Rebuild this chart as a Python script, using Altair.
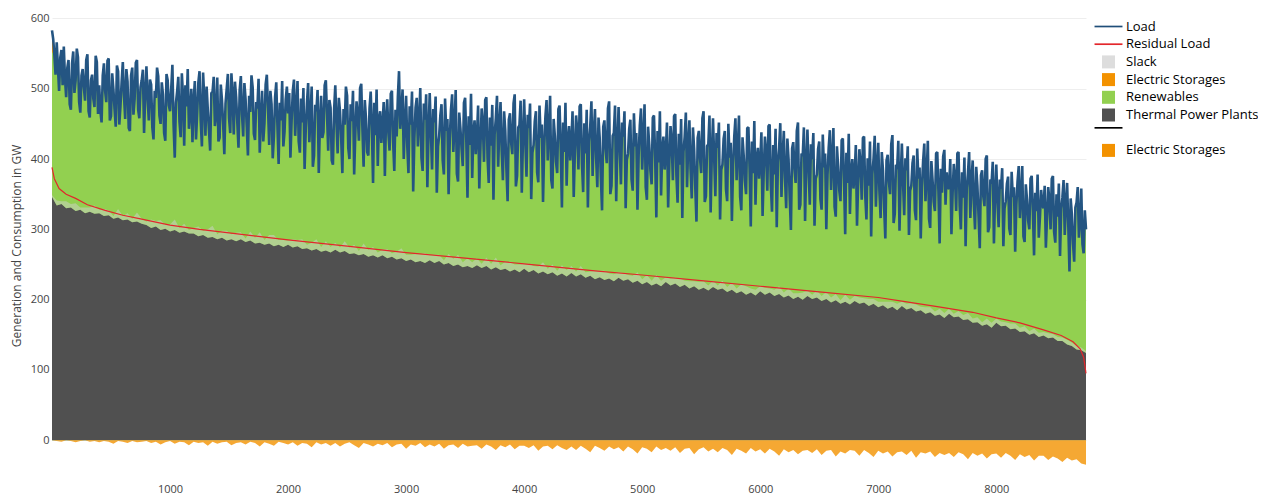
import altair as alt
import pandas as pd

# ---- load (every 10 h of the sorted year) ----
load_hours = list(range(0, 8761, 10))
load = [
    583, 571, 548, 520, 566, 532, 497, 544, 555, 505, 560, 515, 488, 530, 541, 478, 470, 536, 553, 494,
    512, 557, 545, 481, 466, 519, 528, 502, 483, 541, 549, 468, 459, 512, 520, 486, 474, 547, 538, 464,
    505, 468, 452, 519, 536, 497, 481, 540, 543, 455, 461, 522, 500, 471, 446, 533, 525, 449, 475, 510,
    538, 490, 457, 528, 510, 444, 440, 519, 530, 463, 486, 537, 541, 470, 458, 502, 512, 527, 437, 492,
    532, 488, 455, 513, 506, 445, 428, 497, 487, 530, 518, 462, 450, 509, 492, 437, 426, 521, 512, 476,
    468, 500, 534, 449, 402, 480, 496, 517, 453, 431, 522, 490, 419, 505, 475, 528, 443, 466, 500, 424,
    482, 511, 428, 466, 509, 525, 455, 418, 523, 487, 433, 503, 470, 441, 412, 494, 495, 517, 447, 462,
    516, 425, 430, 506, 484, 450, 407, 479, 500, 521, 458, 437, 522, 492, 435, 510, 488, 452, 416, 498,
    518, 463, 432, 508, 485, 446, 405, 490, 467, 519, 502, 436, 427, 481, 472, 514, 409, 458, 497, 425,
    451, 506, 520, 473, 420, 497, 478, 401, 432, 488, 509, 447, 393, 480, 455, 511, 418, 439, 485, 503,
    465, 494, 402, 455, 497, 513, 433, 470, 511, 425, 409, 486, 452, 501, 386, 444, 480, 508, 424, 461,
    503, 389, 405, 477, 468, 498, 380, 452, 490, 430, 438, 505, 512, 463, 412, 484, 473, 398, 392, 470,
    505, 452, 408, 487, 468, 430, 380, 471, 449, 503, 490, 416, 400, 478, 454, 497, 378, 439, 482, 462,
    426, 501, 507, 443, 389, 484, 458, 410, 405, 472, 496, 445, 366, 480, 434, 499, 390, 457, 468, 423,
    448, 481, 376, 459, 485, 437, 412, 493, 497, 424, 383, 470, 432, 488, 525, 443, 468, 499, 400, 452,
    490, 418, 380, 475, 449, 496, 354, 430, 473, 487, 418, 455, 501, 402, 383, 479, 456, 492, 360, 439,
    494, 437, 385, 471, 452, 489, 352, 418, 433, 462, 478, 398, 378, 486, 440, 457, 350, 429, 470, 492,
    410, 447, 498, 379, 368, 466, 444, 415, 390, 480, 487, 426, 345, 461, 420, 493, 373, 438, 455, 407,
    433, 476, 358, 420, 472, 451, 396, 484, 488, 402, 366, 459, 419, 477, 342, 435, 458, 490, 389, 447,
    481, 412, 370, 468, 441, 385, 340, 456, 465, 423, 407, 479, 492, 361, 376, 445, 448, 483, 352, 429,
    485, 426, 375, 463, 444, 479, 343, 409, 420, 454, 468, 381, 367, 476, 430, 449, 339, 418, 460, 484,
    398, 441, 490, 370, 358, 457, 433, 396, 380, 471, 476, 415, 331, 452, 410, 480, 362, 427, 447, 398,
    424, 468, 346, 412, 462, 440, 385, 475, 478, 393, 353, 451, 408, 470, 331, 425, 447, 482, 376, 436,
    471, 401, 360, 459, 430, 374, 327, 446, 455, 414, 394, 472, 482, 350, 362, 433, 437, 476, 340, 421,
    474, 415, 364, 452, 432, 468, 330, 399, 408, 443, 456, 371, 355, 465, 418, 437, 328, 406, 448, 472,
    385, 429, 478, 360, 342, 446, 420, 383, 364, 459, 462, 402, 317, 440, 395, 468, 348, 413, 432, 385,
    409, 452, 331, 398, 447, 425, 370, 461, 464, 377, 338, 436, 392, 457, 316, 410, 432, 466, 360, 421,
    455, 386, 344, 445, 414, 359, 311, 430, 440, 401, 380, 458, 468, 339, 347, 419, 420, 462, 324, 408,
    458, 401, 347, 437, 416, 452, 314, 385, 392, 429, 440, 357, 340, 450, 402, 423, 312, 391, 432, 458,
    370, 414, 462, 346, 327, 431, 405, 369, 350, 444, 445, 387, 304, 425, 380, 454, 335, 400, 416, 372,
    395, 438, 319, 384, 432, 410, 355, 447, 449, 362, 325, 420, 378, 443, 303, 396, 416, 451, 346, 405,
    440, 373, 330, 429, 400, 345, 299, 415, 424, 386, 366, 440, 452, 328, 335, 408, 404, 445, 312, 392,
    442, 386, 335, 421, 400, 437, 305, 372, 378, 414, 425, 343, 328, 435, 388, 408, 300, 377, 416, 441,
    356, 399, 444, 332, 318, 418, 390, 355, 340, 427, 429, 371, 293, 409, 366, 436, 322, 383, 400, 358,
    378, 420, 305, 369, 414, 393, 342, 430, 432, 347, 314, 401, 362, 425, 290, 379, 400, 433, 332, 389,
    423, 354, 316, 410, 384, 331, 287, 398, 406, 368, 350, 421, 434, 309, 322, 392, 386, 426, 298, 373,
    422, 366, 320, 401, 384, 418, 292, 355, 362, 394, 405, 327, 313, 415, 372, 388, 287, 360, 397, 422,
    340, 379, 426, 315, 302, 397, 370, 339, 326, 408, 410, 353, 280, 386, 352, 404, 413, 335, 381, 359,
    358, 400, 293, 352, 393, 374, 326, 408, 410, 333, 300, 381, 345, 402, 276, 359, 380, 410, 316, 370,
    398, 337, 300, 389, 362, 318, 273, 377, 384, 347, 333, 400, 405, 296, 303, 371, 365, 396, 280, 351,
    392, 340, 303, 371, 358, 387, 276, 330, 340, 365, 375, 301, 292, 382, 346, 360, 268, 335, 368, 390,
    316, 349, 390, 290, 282, 364, 343, 312, 300, 372, 376, 327, 263, 352, 326, 378, 288, 318, 356, 334,
    330, 362, 274, 318, 360, 341, 300, 372, 376, 296, 281, 350, 318, 365, 262, 329, 345, 370, 292, 338,
    366, 306, 240, 344, 322, 280, 254, 331, 338, 360, 288, 312, 358, 279, 266, 327, 300,
]

# ---- generation blocks (every 40 h) ----
hours = list(range(0, 8761, 40))
thermal = [
    346, 334, 336, 330, 331, 326, 328, 323, 325, 322,
    323, 319, 320, 315, 317, 313, 314, 310, 311, 308,
    306, 302, 304, 299, 301, 297, 299, 295, 297, 294,
    294, 290, 292, 288, 289, 286, 288, 284, 286, 283,
    286, 282, 284, 280, 281, 278, 280, 276, 278, 275,
    278, 274, 276, 272, 273, 270, 272, 268, 270, 267,
    271, 267, 269, 265, 266, 263, 265, 261, 263, 260,
    263, 259, 261, 257, 259, 255, 257, 253, 255, 252,
    256, 252, 255, 250, 252, 248, 250, 246, 248, 245,
    249, 245, 248, 243, 246, 242, 244, 240, 243, 239,
    244, 239, 242, 237, 240, 236, 239, 234, 237, 233,
    238, 233, 236, 231, 234, 229, 232, 228, 230, 226,
    231, 227, 229, 224, 227, 222, 225, 220, 223, 219,
    225, 220, 223, 218, 221, 216, 219, 214, 217, 213,
    218, 214, 216, 211, 214, 209, 212, 207, 210, 206,
    212, 207, 210, 205, 208, 203, 206, 201, 204, 200,
    205, 201, 203, 198, 201, 196, 199, 194, 197, 193,
    198, 194, 196, 191, 194, 189, 192, 187, 190, 185,
    191, 186, 188, 183, 185, 180, 182, 177, 179, 174,
    180, 175, 176, 171, 172, 167, 168, 163, 165, 160,
    167, 162, 163, 158, 159, 154, 155, 150, 152, 147,
    149, 145, 146, 141, 141, 136, 134, 129, 128, 124,
]

slack = [
    3, 7, 4, 10, 5, 11, 3, 8, 6, 12,
    5, 10, 7, 4, 12, 6, 9, 5, 13, 7,
    5, 12, 8, 14, 6, 10, 15, 7, 11, 5,
    8, 14, 6, 12, 16, 7, 10, 14, 7, 12,
    10, 5, 13, 8, 15, 7, 12, 16, 7, 10,
    6, 12, 9, 14, 5, 11, 14, 7, 13, 8,
    10, 7, 14, 9, 12, 6, 15, 10, 12, 7,
    8, 13, 5, 11, 14, 9, 7, 12, 10, 14,
    7, 12, 9, 6, 13, 10, 14, 7, 11, 8,
    10, 6, 12, 8, 14, 7, 10, 13, 7, 11,
    7, 12, 6, 10, 13, 8, 11, 7, 12, 9,
    10, 7, 12, 8, 6, 12, 9, 13, 7, 10,
    8, 11, 6, 10, 12, 7, 10, 7, 12, 8,
    7, 10, 8, 12, 6, 10, 7, 11, 9, 7,
    9, 6, 11, 7, 10, 7, 10, 12, 6, 8,
    7, 10, 6, 9, 11, 7, 10, 8, 5, 10,
    8, 6, 10, 7, 10, 7, 9, 5, 10, 7,
    7, 9, 6, 10, 7, 8, 5, 10, 7, 9,
    6, 8, 7, 10, 5, 9, 7, 6, 8, 7,
    7, 5, 8, 7, 9, 6, 7, 5, 8, 7,
    6, 7, 5, 8, 7, 6, 7, 5, 7, 6,
    5, 7, 5, 6, 5, 7, 5, 5, 4, 3,
]

storage_neg = [
    0, -1, -2, 0, -1, -3, -1, 0, -2, -1,
    -3, -1, -2, -5, -1, -2, -4, -1, -3, -2,
    -1, -4, -2, -6, -3, -1, -5, -2, -3, -7,
    -2, -4, -3, -8, -2, -5, -3, -2, -7, -4,
    -3, -6, -2, -4, -9, -3, -5, -8, -2, -4,
    -6, -3, -8, -4, -5, -10, -3, -6, -4, -8,
    -4, -9, -5, -3, -7, -11, -4, -6, -9, -5,
    -7, -4, -10, -6, -5, -12, -6, -8, -4, -10,
    -6, -9, -5, -12, -7, -6, -11, -5, -9, -8,
    -7, -12, -6, -9, -14, -7, -10, -6, -13, -8,
    -8, -11, -7, -15, -9, -8, -13, -7, -11, -14,
    -9, -14, -8, -12, -17, -8, -11, -15, -9, -13,
    -10, -16, -9, -13, -19, -10, -12, -17, -9, -14,
    -11, -15, -10, -18, -12, -11, -20, -13, -10, -16,
    -12, -17, -11, -14, -21, -12, -15, -19, -11, -16,
    -13, -19, -12, -16, -22, -13, -17, -14, -20, -15,
    -14, -18, -13, -21, -15, -14, -23, -16, -19, -14,
    -15, -22, -14, -18, -24, -15, -19, -16, -23, -17,
    -16, -21, -15, -25, -17, -19, -16, -24, -18, -21,
    -18, -24, -17, -20, -27, -18, -22, -19, -26, -20,
    -19, -25, -18, -22, -28, -20, -24, -21, -29, -22,
    -22, -28, -23, -26, -31, -25, -29, -27, -33, -35,
]

# discharging storage in the very first hours
storage_pos_hours = [0, 10, 20, 30]
storage_pos = [30, 22, 10, 0]

res_hours = [0, 20, 60, 120, 200, 300, 450, 600, 750, 1000, 1250, 1500,
             2000, 2500, 3000, 3500, 4000, 4600, 5000, 5500, 6000, 6500,
             7000, 7200, 7500, 7800, 8000, 8200, 8400, 8550, 8650, 8710,
             8740, 8760]
residual = [388, 372, 358, 350, 344, 335, 327, 320, 315, 306, 300, 295,
            285, 276, 267, 259, 251, 241, 235, 227, 219, 211,
            203, 198, 190, 182, 174, 167, 157, 149, 140, 130,
            118, 95]

legend_names = ["Load", "Residual Load", "Slack", "Electric Storages",
                "Renewables", "Thermal Power Plants", "_line",
                "Electric Storages 2"]
legend_colors = ["#1f4e79", "#e3262b", "#dddddd", "#f39200",
                 "#92d050", "#505050", "#000000", "#f39200"]
LINE = "M-2.15,-0.13H2.15V0.13H-2.15Z"
LINE_UP = "M-2.15,-0.88H2.15V-0.62H-2.15Z"
legend_shapes = [LINE, LINE, "square", "square", "square", "square", LINE_UP, "square"]

x_ticks = [1000, 2000, 3000, 4000, 5000, 6000, 7000, 8000]
y_ticks = [0, 100, 200, 300, 400, 500, 600]

C_LOAD, C_RES, C_GRAY, C_GREEN, C_ORANGE, C_SLACK = (
    "#245582", "#e3262b", "#505050", "#92d050", "#f39200", "#d0d0d0")

load_df = pd.DataFrame({"hour": load_hours, "load": load})
gen_df = pd.DataFrame({"hour": hours, "thermal": thermal, "slack": slack,
                       "storage": storage_neg})
gen_df["slack_top"] = gen_df["thermal"] + gen_df["slack"]
pos_df = pd.DataFrame({"hour": storage_pos_hours, "pos": storage_pos}).merge(load_df, on="hour")
pos_df["ren_top"] = pos_df["load"] - pos_df["pos"]
res_df = pd.DataFrame({"hour": res_hours, "residual": residual})
leg_df = pd.DataFrame({"series": legend_names})

FONT = "Open Sans"

x_enc = alt.X("hour:Q",
              scale=alt.Scale(domain=[0, 8760], nice=False, zero=False),
              axis=alt.Axis(values=x_ticks, format="d", grid=False, domain=False,
                            ticks=False, labelPadding=2, title=None, labelFont=FONT,
                            labelFontSize=11, labelColor="#444"))
y_scale = alt.Scale(domain=[-58, 612], nice=False, zero=False)
y_axis = alt.Axis(values=y_ticks, grid=True, gridColor="#eeeeee", domain=False,
                  ticks=False, labelPadding=3, labelFont=FONT, labelFontSize=11,
                  labelColor="#444", title="Generation and Consumption in GW",
                  titleFont=FONT, titleFontSize=12, titleFontWeight="normal",
                  titleColor="#444", titlePadding=7)


def Y(field):
    return alt.Y(field, scale=y_scale, axis=y_axis)


ren_area = alt.Chart(load_df).mark_area(color=C_GREEN, opacity=1).encode(
    x=x_enc, y=Y("load:Q"), y2=alt.datum(0))
pos_area = alt.Chart(pos_df).mark_area(color=C_ORANGE, opacity=1).encode(
    x=x_enc, y=Y("ren_top:Q"), y2="load:Q")
thermal_area = alt.Chart(gen_df).mark_area(color=C_GRAY, opacity=1).encode(
    x=x_enc, y=Y("thermal:Q"), y2=alt.datum(0))
slack_area = alt.Chart(gen_df).mark_area(color=C_SLACK, opacity=0.5).encode(
    x=x_enc, y=Y("thermal:Q"), y2="slack_top:Q")
neg_area = alt.Chart(gen_df).mark_area(color=C_ORANGE, opacity=0.8).encode(
    x=x_enc, y=Y("storage:Q"), y2=alt.datum(0))
res_line = alt.Chart(res_df).mark_line(color=C_RES, strokeWidth=1.2).encode(
    x=x_enc, y=Y("residual:Q"))
load_line = alt.Chart(load_df).mark_line(
    color=C_LOAD, strokeWidth=2.6, strokeJoin="bevel").encode(
    x=x_enc, y=Y("load:Q"))

legend = alt.Legend(
    title=None, orient="none", legendX=1050, legendY=10,
    symbolSize=169, symbolStrokeWidth=0, symbolOpacity=1,
    labelFont=FONT, labelFontSize=13, labelColor="#000", labelOffset=11,
    rowPadding=3.7, labelLimit=0,
    labelExpr="datum.label == '_line' ? '' : (datum.label == 'Electric Storages 2' ? 'Electric Storages' : datum.label)")

legend_layer = alt.Chart(leg_df).mark_point(filled=True, opacity=0, size=0).encode(
    color=alt.Color("series:N", scale=alt.Scale(domain=legend_names, range=legend_colors), legend=legend),
    shape=alt.Shape("series:N", scale=alt.Scale(domain=legend_names, range=legend_shapes), legend=legend),
)

chart = alt.layer(
    ren_area, pos_area, thermal_area, slack_area, neg_area, res_line, load_line, legend_layer
).properties(
    width=1034, height=471,
    padding={"left": 44, "top": 2, "right": 172, "bottom": 14},
    autosize=alt.AutoSizeParams(type="none"),
    background="white",
).configure_view(stroke=None)

chart.save("out.html", embed_options={"renderer": "svg", "actions": False})
